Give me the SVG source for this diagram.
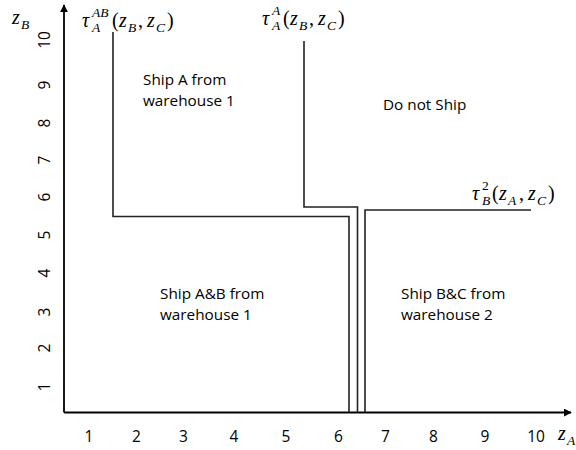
<svg xmlns="http://www.w3.org/2000/svg" width="576" height="450" viewBox="0 0 576 450">
<defs>
<marker id="arr" viewBox="0 0 10 10" refX="9" refY="5" markerWidth="8" markerHeight="8" markerUnits="userSpaceOnUse" orient="auto">
<path d="M0,0 L10,5 L0,10 z" fill="#000"/>
</marker>
</defs>
<style>
.ax{stroke:#000;stroke-width:1.8;fill:none}
.bd{stroke:#222;stroke-width:1.6;fill:none}
.lb{font-family:"Open Sans","Liberation Sans",sans-serif;font-size:15.3px;fill:#000}
.tk{font-family:"Open Sans","Liberation Sans",sans-serif;font-size:15.5px;fill:#000;text-anchor:middle}
.m{font-family:"Liberation Serif","DejaVu Serif",serif;font-style:italic;font-size:20px;fill:#000}
.ms{font-family:"Liberation Serif","DejaVu Serif",serif;font-style:italic;font-size:13.5px;fill:#000}
.msu{font-family:"Liberation Serif","DejaVu Serif",serif;font-size:13.5px;fill:#000}
.mp{font-family:"Liberation Serif","DejaVu Serif",serif;font-size:20px;fill:#000}
</style>
<g id="connectors">
<line class="ax" x1="64" y1="412.5" x2="571" y2="412.5" marker-end="url(#arr)"/>
<line class="ax" x1="64" y1="412.5" x2="64" y2="5" marker-end="url(#arr)"/>
<polyline class="bd" points="113,32 113,216.5 349,216.5 349,412"/>
<polyline class="bd" points="304,41 304,207 357.5,207 357.5,412"/>
<polyline class="bd" points="531,210 365,210 365,412"/>
</g>
<g id="xticks">
<text class="tk" x="89" y="442">1</text>
<text class="tk" x="136.5" y="442">2</text>
<text class="tk" x="183.5" y="442">3</text>
<text class="tk" x="234" y="442">4</text>
<text class="tk" x="286" y="442">5</text>
<text class="tk" x="338.5" y="442">6</text>
<text class="tk" x="385.5" y="442">7</text>
<text class="tk" x="433.5" y="442">8</text>
<text class="tk" x="485" y="442">9</text>
<text class="tk" x="536" y="442">10</text>
</g>
<g id="yticks">
<text class="tk" transform="translate(50,40) rotate(-90)">10</text>
<text class="tk" transform="translate(50,85) rotate(-90)">9</text>
<text class="tk" transform="translate(50,123) rotate(-90)">8</text>
<text class="tk" transform="translate(50,160) rotate(-90)">7</text>
<text class="tk" transform="translate(50,197) rotate(-90)">6</text>
<text class="tk" transform="translate(50,235) rotate(-90)">5</text>
<text class="tk" transform="translate(50,273) rotate(-90)">4</text>
<text class="tk" transform="translate(50,312) rotate(-90)">3</text>
<text class="tk" transform="translate(50,348) rotate(-90)">2</text>
<text class="tk" transform="translate(50,387) rotate(-90)">1</text>
</g>
<g id="axis-labels">
<text class="m" x="12" y="24">z</text><text class="ms" x="21" y="29">B</text>
<text class="m" x="558" y="440">z</text><text class="ms" x="567" y="445">A</text>
</g>
<g id="tau-AB">
<text class="m" x="82" y="27">τ</text>
<text class="ms" x="92" y="17">AB</text>
<text class="ms" x="92" y="32">A</text>
<text class="mp" x="112" y="27">(</text>
<text class="m" x="119" y="27">z</text><text class="ms" x="128" y="32">B</text>
<text class="mp" x="138" y="27">,</text>
<text class="m" x="147" y="27">z</text><text class="ms" x="156" y="32">C</text>
<text class="mp" x="167" y="27">)</text>
</g>
<g id="tau-A">
<text class="m" x="262" y="25">τ</text>
<text class="ms" x="272" y="15">A</text>
<text class="ms" x="272" y="30">A</text>
<text class="mp" x="283" y="25">(</text>
<text class="m" x="290" y="25">z</text><text class="ms" x="299" y="30">B</text>
<text class="mp" x="309" y="25">,</text>
<text class="m" x="318" y="25">z</text><text class="ms" x="327" y="30">C</text>
<text class="mp" x="338" y="25">)</text>
</g>
<g id="tau-B2">
<text class="m" x="472" y="200">τ</text>
<text class="msu" x="482" y="190">2</text>
<text class="ms" x="482" y="205">B</text>
<text class="mp" x="492" y="200">(</text>
<text class="m" x="499" y="200">z</text><text class="ms" x="508" y="205">A</text>
<text class="mp" x="519" y="200">,</text>
<text class="m" x="528" y="200">z</text><text class="ms" x="537" y="205">C</text>
<text class="mp" x="548" y="200">)</text>
</g>
<g id="region-shipA">
<text class="lb" x="143" y="85">Ship A from</text>
<text class="lb" x="143" y="106">warehouse 1</text>
</g>
<g id="region-donotship">
<text class="lb" x="383" y="110">Do not Ship</text>
</g>
<g id="region-shipAB">
<text class="lb" x="160" y="299">Ship A&amp;B from</text>
<text class="lb" x="160" y="320">warehouse 1</text>
</g>
<g id="region-shipBC">
<text class="lb" x="401" y="299">Ship B&amp;C from</text>
<text class="lb" x="401" y="320">warehouse 2</text>
</g>
</svg>
